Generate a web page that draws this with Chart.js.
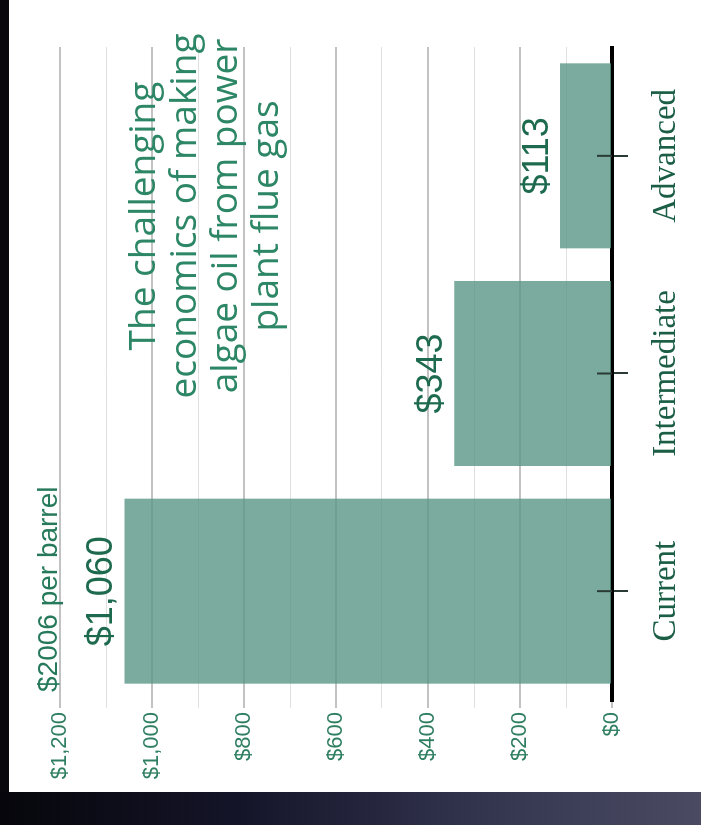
<!DOCTYPE html>
<html>
<head>
<meta charset="utf-8">
<script src="https://cdn.jsdelivr.net/npm/chart.js@4.4.1/dist/chart.umd.min.js"></script>
<style>
  html, body { margin: 0; padding: 0; }
  body { width: 701px; height: 825px; background: #08080d; position: relative; overflow: hidden; }
  #panel { position: absolute; left: 9px; top: 0; width: 692px; height: 792px; background: #fff; }
  #band { position: absolute; left: 0; top: 792px; width: 701px; height: 33px;
          background: linear-gradient(to right, #06060b 0%, #15152a 35%, #343650 70%, #4a4b62 100%); }
  /* chart is laid out upright, then turned a quarter turn counter-clockwise */
  #wrap { position: absolute; left: 9px; top: 792px; width: 792px; height: 692px;
          transform-origin: 0 0; transform: rotate(-90deg); }
</style>
</head>
<body>
<div id="panel"></div>
<div id="band"></div>
<div id="wrap"><canvas id="chart" width="792" height="692"></canvas></div>
<script>
const categories = ['Current', 'Intermediate', 'Advanced'];
const costs = [1060, 343, 113];
const costLabels = ['$1,060', '$343', '$113'];
const unitLabel = '$2006 per barrel';
const titleLines = ['The challenging', 'economics of making', 'algae oil from power', 'plant flue gas'];

const green = '#1d6a4f';

const extras = {
    id: 'extras',
    afterDatasetsDraw(chart) {
        const { ctx, chartArea, scales } = chart;
        ctx.save();

        // tick marks crossing the base line
        ctx.strokeStyle = '#2a3a34';
        ctx.lineWidth = 2;
        categories.forEach((c, i) => {
            const px = scales.x.getPixelForValue(i);
            ctx.beginPath();
            ctx.moveTo(px, chartArea.bottom - 15);
            ctx.lineTo(px, chartArea.bottom);
            ctx.stroke();
        });

        // value over each bar
        ctx.fillStyle = green;
        ctx.font = '36px "Liberation Sans", Arial, sans-serif';
        ctx.textAlign = 'center';
        ctx.textBaseline = 'alphabetic';
        chart.getDatasetMeta(0).data.forEach((bar, i) => {
            ctx.fillText(costLabels[i], bar.x, bar.y - 12);
        });

        // unit note above the value axis
        ctx.font = '28px "Liberation Sans", Arial, sans-serif';
        ctx.fillStyle = '#267a5b';
        ctx.textAlign = 'left';
        ctx.fillText(unitLabel, 100, 48);

        // headline
        ctx.font = '37px "Open Sans", "Noto Sans", sans-serif';
        ctx.fillStyle = '#2d8766';
        ctx.textAlign = 'center';
        titleLines.forEach((t, i) => ctx.fillText(t, 576, 146 + i * 41));

        ctx.restore();
    }
};

new Chart(document.getElementById('chart').getContext('2d'), {
    type: 'bar',
    data: {
        labels: categories,
        datasets: [{
            data: costs,
            backgroundColor: 'rgba(89, 150, 134, 0.8)',
            borderWidth: 0,
            barPercentage: 0.85,
            categoryPercentage: 1
        }]
    },
    options: {
        responsive: false,
        animation: false,
        layout: { padding: { left: 0, right: 47, top: 51, bottom: 0 } },
        plugins: { legend: { display: false }, tooltip: { enabled: false } },
        scales: {
            x: {
                afterFit: s => { s.height = 89; },
                border: { display: true, color: '#000', width: 4 },
                grid: { display: true, drawOnChartArea: false, offset: false, tickLength: 16, color: '#2a3a34', lineWidth: 2 },
                ticks: {
                    color: '#1b5e45',
                    padding: 19,
                    font: { family: '"Liberation Serif", "Times New Roman", serif', size: 33 }
                }
            },
            y: {
                min: 0,
                max: 1200,
                afterFit: s => { s.width = 92; },
                border: { display: false },
                grid: {
                    tickLength: 8,
                    color: c => c.tick && c.tick.value % 200 === 0 ? '#c2c2c2' : '#e0e0e0',
                    lineWidth: c => c.tick && c.tick.value % 200 === 0 ? 2 : 1
                },
                ticks: {
                    stepSize: 100,
                    autoSkip: false,
                    padding: 4,
                    color: '#2e7e61',
                    font: { family: '"Liberation Sans", Arial, sans-serif', size: 22 },
                    callback: v => v % 200 === 0 ? '$' + v.toLocaleString('en-US') : ''
                }
            }
        }
    },
    plugins: [extras]
});
</script>
</body>
</html>
